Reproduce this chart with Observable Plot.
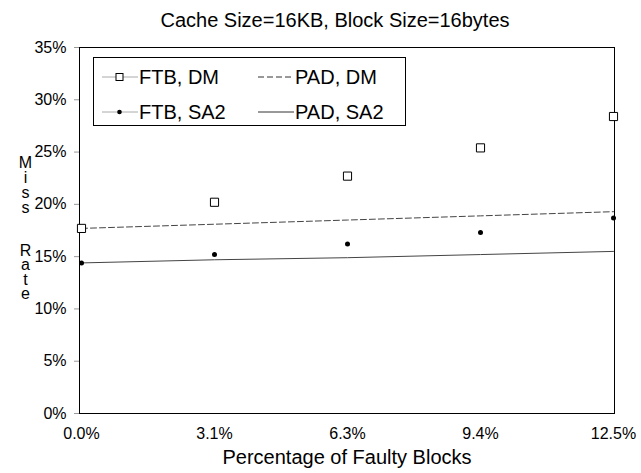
<!DOCTYPE html>
<html>
<head>
<meta charset="utf-8">
<script src="https://cdn.jsdelivr.net/npm/d3@7"></script>
<script src="https://cdn.jsdelivr.net/npm/@observablehq/plot@0.6"></script>
<style>
  body { margin: 0; background: white; font-family: "Liberation Sans", Arial, Helvetica, sans-serif; }
  #wrap { position: relative; width: 641px; height: 473px; overflow: hidden; }
  #title { position: absolute; top: 0; left: 0; width: 641px; height: 38px; box-sizing: border-box; padding-left: 29px;
           text-align: center; font-size: 20px; line-height: 40px; color: #000; }
  #chart { position: absolute; top: 38px; left: 0; }
  .ylab { position: absolute; left: 15px; width: 20px; font-size: 16px; line-height: 20px; color: #000;
          writing-mode: vertical-lr; text-orientation: upright; white-space: nowrap; }
  #legend { position: absolute; left: 93px; top: 57px; width: 313px; height: 69px; box-sizing: border-box;
            border: 1px solid #000; background: #fff; font-size: 20px; color: #000; }
  .item { position: absolute; height: 24px; display: flex; align-items: center; white-space: nowrap; }
  .item svg { display: block; margin-right: 1px; }
</style>
</head>
<body>
<div id="wrap">
  <div id="title"></div>
  <div id="chart"></div>
  <div class="ylab" id="ylab1" style="top:154px; letter-spacing:-2.0px;"></div>
  <div class="ylab" id="ylab2" style="top:242px; letter-spacing:-2.7px;"></div>
  <div id="legend"></div>
</div>
<script>
// ---- data ----
const titleText = "Cache Size=16KB, Block Size=16bytes";
const xLabel = "Percentage of Faulty Blocks";
const yLabelTop = "Miss";
const yLabelBottom = "Rate";
const categories = ["0.0%", "3.1%", "6.3%", "9.4%", "12.5%"];
const ftbDM  = [17.7, 20.2, 22.7, 25.4, 28.4];
const padDM  = [17.7, 18.1, 18.5, 18.9, 19.3];
const ftbSA2 = [14.4, 15.2, 16.2, 17.3, 18.7];
const padSA2 = [14.4, 14.7, 14.9, 15.2, 15.5];
const yTicks = [0, 5, 10, 15, 20, 25, 30, 35];
const seriesNames = ["FTB, DM", "PAD, DM", "FTB, SA2", "PAD, SA2"];

const toRows = (vals) => categories.map((c, i) => ({x: c, y: vals[i]}));

document.getElementById("title").textContent = titleText;
document.getElementById("ylab1").textContent = yLabelTop;
document.getElementById("ylab2").textContent = yLabelBottom;

const font = "'Liberation Sans', Arial, Helvetica, sans-serif";

const chart = Plot.plot({
  width: 641,
  height: 435,
  marginLeft: 79,
  marginRight: 27,
  marginTop: 9,
  marginBottom: 60,
  style: {fontFamily: font, background: "white", color: "black", overflow: "visible"},
  x: {type: "point", domain: categories, padding: 0},
  y: {domain: [0, 35]},
  marks: [
    Plot.axisY({ticks: yTicks, tickFormat: d => d + "%", tickSize: 5, tickPadding: 8,
                stroke: "#999", fill: "black", fontSize: 16, label: null}),
    Plot.axisX({tickSize: 0, tickPadding: 14, fill: "black", fontSize: 16,
                label: xLabel, labelAnchor: "center", labelArrow: "none", labelOffset: 50}),
    Plot.line(toRows(padDM), {x: "x", y: "y", stroke: "#444", strokeWidth: 1, strokeDasharray: "6,3"}),
    Plot.line(toRows(padSA2), {x: "x", y: "y", stroke: "#444", strokeWidth: 1}),
    Plot.frame({stroke: "black", strokeWidth: 1}),
    Plot.dot(toRows(ftbDM), {x: "x", y: "y", symbol: "square", r: 4.6, stroke: "black", strokeWidth: 1, fill: "white"}),
    Plot.dot(toRows(ftbSA2), {x: "x", y: "y", r: 2.5, fill: "black", stroke: "none"})
  ]
});
document.getElementById("chart").appendChild(chart);
chart.querySelectorAll("[aria-label='x-axis label'] text").forEach(t => t.setAttribute("font-size", "20"));

// ---- legend ----
const legend = document.getElementById("legend");
const samples = {
  "FTB, DM": `<svg width="36" height="12"><line x1="0" y1="6" x2="36" y2="6" stroke="#aaa"/><rect x="14" y="2.5" width="7" height="7" fill="white" stroke="black"/></svg>`,
  "PAD, DM": `<svg width="36" height="12"><line x1="0" y1="6" x2="36" y2="6" stroke="#333" stroke-dasharray="6,3"/></svg>`,
  "FTB, SA2": `<svg width="36" height="12"><line x1="0" y1="6" x2="36" y2="6" stroke="#aaa"/><circle cx="17.5" cy="6" r="2.3" fill="black"/></svg>`,
  "PAD, SA2": `<svg width="36" height="12"><line x1="0" y1="6" x2="36" y2="6" stroke="#333"/></svg>`
};
const pos = [[8, 7], [164, 7], [8, 42], [164, 42]];
seriesNames.forEach((name, i) => {
  const d = document.createElement("div");
  d.className = "item";
  d.style.left = pos[i][0] + "px";
  d.style.top = pos[i][1] + "px";
  d.innerHTML = samples[name] + `<span>${name}</span>`;
  legend.appendChild(d);
});
</script>
</body>
</html>
